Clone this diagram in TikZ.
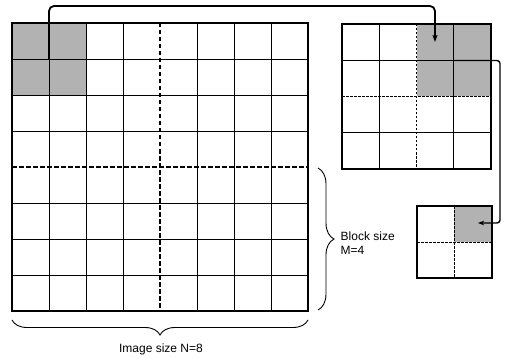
\documentclass[tikz,border=0pt]{standalone}
\usepackage{fontspec}
\setmainfont{Liberation Sans}
\usetikzlibrary{decorations.pathreplacing,arrows.meta}
\begin{document}
\begin{tikzpicture}[x=1pt,y=-1pt,
  cellfill/.style={fill=black!30},
  gridline/.style={line width=0.9pt,black},
  frameline/.style={line width=1.3pt,black},
  bigdash/.style={line width=1.8pt,black,dash pattern=on 4.5pt off 2.5pt},
  smalldash/.style={line width=0.8pt,black,dash pattern=on 2.5pt off 1.5pt},
  conn/.style={line width=1.8pt,black,rounded corners=5pt,-{Stealth[length=7pt,width=5pt,inset=1.5pt]}},
  conn2/.style={line width=1.4pt,black,rounded corners=3pt,-{Stealth[length=6pt,width=4.5pt,inset=1.5pt]}},
  bracestyle/.style={line width=0.9pt,black,decorate},
  label/.style={font=\fontsize{12}{14}\selectfont,inner sep=0pt}
]
\useasboundingbox (0,0) rectangle (505,358);
% ---- big image grid ----
\fill[cellfill] (12,23) rectangle (86,95);
\foreach \i in {1,2,3,5,6,7} \draw[gridline] ({12+37*\i},23) -- ({12+37*\i},311);
\foreach \j in {1,2,3,5,6,7} \draw[gridline] (12,{23+36*\j}) -- (308,{23+36*\j});
\draw[bigdash] (160,23) -- (160,311);
\draw[bigdash] (12,167) -- (308,167);
\draw[frameline] (12,23) rectangle (308,311);
% ---- middle block grid ----
\fill[cellfill] (416.5,24) rectangle (491,96.5);
\foreach \i in {1,3} \draw[gridline] ({342+37.25*\i},24) -- ({342+37.25*\i},169);
\foreach \j in {1,3} \draw[gridline] (342,{24+36.25*\j}) -- (491,{24+36.25*\j});
\draw[smalldash] (416.5,24) -- (416.5,169);
\draw[smalldash] (342,96.5) -- (491,96.5);
\draw[frameline] (342,24) rectangle (491,169);
% ---- small block ----
\fill[cellfill] (454,206) rectangle (492,242);
\draw[smalldash] (454,206) -- (454,278);
\draw[smalldash] (417,242) -- (492,242);
\draw[frameline] (417,206) rectangle (492,278);
% ---- connectors ----
\coordinate (a1) at (49,59.5);
\coordinate (a2) at (435,42);
\coordinate (atop) at (0,6);
\draw[conn] (a1) -- (a1 |- atop) -- (a2 |- atop) -- (a2);
\coordinate (b1) at (453.5,60.5);
\coordinate (b2) at (478,223);
\coordinate (bside) at (500,0);
\draw[conn2] (b1) -- (b1 -| bside) -- (b2 -| bside) -- (b2);
% ---- braces ----
\draw[bracestyle,decoration={brace,amplitude=16pt}] (318,168) -- (318,310);
\draw[bracestyle,decoration={brace,amplitude=15pt}] (308,320) -- (12,320);
\node[label,anchor=west,align=left] (blk) at (340.5,243) {Block size\\M=4};
\node[label] (img) at (161,349) {Image size N=8};
\end{tikzpicture}
\end{document}
